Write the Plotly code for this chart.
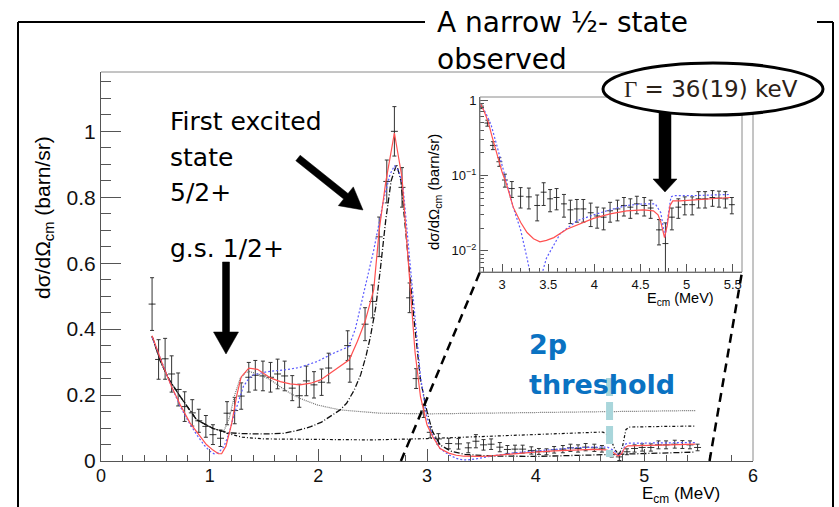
import plotly.graph_objects as go

# ---------------- data ----------------
data_points = [
    (0.47, 0.476, 0.080), (0.53, 0.308, 0.060), (0.59, 0.310, 0.062), (0.65, 0.264, 0.055),
    (0.71, 0.217, 0.050), (0.77, 0.165, 0.045), (0.84, 0.146, 0.040), (0.90, 0.122, 0.035),
    (0.965, 0.105, 0.033), (1.03, 0.080, 0.030), (1.10, 0.069, 0.025), (1.16, 0.145, 0.035),
    (1.23, 0.153, 0.040), (1.29, 0.197, 0.040), (1.36, 0.254, 0.045), (1.42, 0.260, 0.045),
    (1.49, 0.258, 0.045), (1.56, 0.254, 0.045), (1.625, 0.264, 0.045), (1.69, 0.258, 0.045),
    (1.76, 0.221, 0.038), (1.825, 0.198, 0.035), (1.89, 0.243, 0.045), (1.96, 0.231, 0.040),
    (2.03, 0.239, 0.040), (2.095, 0.282, 0.045), (2.27, 0.350, 0.045), (2.29, 0.279, 0.040),
    (2.43, 0.415, 0.050), (2.50, 0.484, 0.050), (2.56, 0.680, 0.060), (2.63, 0.848, 0.065),
    (2.70, 1.000, 0.075), (2.77, 0.830, 0.060), (2.84, 0.495, 0.045), (2.90, 0.250, 0.030),
    (2.97, 0.152, 0.020), (3.03, 0.087, 0.017), (3.105, 0.067, 0.016), (3.20, 0.053, 0.016),
    (3.29, 0.052, 0.016), (3.38, 0.040, 0.015), (3.45, 0.060, 0.020), (3.52, 0.049, 0.016),
    (3.59, 0.051, 0.016), (3.67, 0.042, 0.014), (3.74, 0.035, 0.012), (3.81, 0.036, 0.012),
    (3.88, 0.036, 0.012), (3.96, 0.032, 0.011), (4.03, 0.029, 0.009), (4.10, 0.028, 0.009),
    (4.17, 0.034, 0.010), (4.25, 0.036, 0.011), (4.32, 0.040, 0.011), (4.39, 0.038, 0.011),
    (4.46, 0.042, 0.011), (4.54, 0.040, 0.011), (4.61, 0.037, 0.010), (4.70, 0.019, 0.007),
    (4.77, 0.0125, 0.011), (4.84, 0.028, 0.009), (4.91, 0.038, 0.011), (4.98, 0.041, 0.011),
    (5.06, 0.041, 0.011), (5.13, 0.049, 0.012), (5.20, 0.049, 0.012), (5.28, 0.051, 0.012),
    (5.35, 0.050, 0.012), (5.42, 0.049, 0.012), (5.49, 0.041, 0.010),
]
data_x = [p[0] for p in data_points]
data_y = [p[1] for p in data_points]
data_err = [p[2] for p in data_points]
bin_half_width = 0.032

red_fit = [
    (0.47, 0.380), (0.52, 0.335), (0.57, 0.290), (0.65, 0.225), (0.73, 0.170), (0.82, 0.115),
    (0.90, 0.080), (0.97, 0.050), (1.03, 0.033), (1.08, 0.022), (1.11, 0.022), (1.15, 0.045),
    (1.20, 0.110), (1.25, 0.200), (1.29, 0.255), (1.36, 0.282), (1.44, 0.278), (1.56, 0.252),
    (1.65, 0.241), (1.74, 0.234), (1.83, 0.231), (1.93, 0.236), (2.02, 0.246), (2.11, 0.266),
    (2.20, 0.287), (2.285, 0.307), (2.36, 0.363), (2.43, 0.423), (2.51, 0.520), (2.56, 0.700),
    (2.62, 0.845), (2.70, 0.995), (2.77, 0.860), (2.80, 0.730), (2.85, 0.510), (2.89, 0.330),
    (2.94, 0.195), (3.00, 0.110), (3.05, 0.075), (3.12, 0.038), (3.20, 0.024), (3.27, 0.0175),
    (3.34, 0.0145), (3.41, 0.0132), (3.48, 0.0138), (3.56, 0.015), (3.70, 0.0194), (3.85, 0.023),
    (3.99, 0.027), (4.17, 0.031), (4.35, 0.034), (4.53, 0.035), (4.64, 0.034), (4.69, 0.030),
    (4.72, 0.024), (4.76, 0.015), (4.79, 0.022), (4.82, 0.040), (4.85, 0.046), (4.93, 0.046),
    (5.15, 0.048), (5.47, 0.051),
]
blue_fit = [
    (0.47, 0.375), (0.57, 0.290), (0.65, 0.225), (0.73, 0.165), (0.80, 0.122), (0.88, 0.080),
    (0.95, 0.048), (1.00, 0.030), (1.04, 0.022), (1.08, 0.025), (1.13, 0.043), (1.18, 0.085),
    (1.22, 0.135), (1.27, 0.185), (1.31, 0.226), (1.36, 0.250), (1.40, 0.261), (1.53, 0.271),
    (1.71, 0.277), (1.83, 0.284), (1.99, 0.302), (2.14, 0.327), (2.28, 0.347), (2.34, 0.400),
    (2.39, 0.470), (2.45, 0.560), (2.51, 0.640), (2.60, 0.790), (2.66, 0.870), (2.70, 0.895),
    (2.74, 0.880), (2.78, 0.830), (2.82, 0.680), (2.88, 0.470), (2.94, 0.256), (3.00, 0.130),
    (3.05, 0.080), (3.12, 0.038), (3.20, 0.019), (3.27, 0.008), (3.32, 0.004), (3.37, 0.003),
    (3.41, 0.004), (3.48, 0.008), (3.63, 0.017), (3.81, 0.025), (3.99, 0.030), (4.17, 0.035),
    (4.35, 0.040), (4.53, 0.042), (4.66, 0.042), (4.72, 0.032), (4.765, 0.015), (4.80, 0.030),
    (4.83, 0.052), (4.86, 0.054), (5.07, 0.054), (5.47, 0.056),
]
d_wave = [
    (0.47, 0.378), (0.55, 0.300), (0.63, 0.245), (0.73, 0.195), (0.88, 0.125), (1.03, 0.099),
    (1.16, 0.086), (1.30, 0.083), (1.50, 0.082), (1.68, 0.084), (1.80, 0.092), (1.93, 0.104),
    (2.03, 0.118), (2.11, 0.135), (2.20, 0.155), (2.26, 0.175), (2.33, 0.215), (2.39, 0.262),
    (2.44, 0.320), (2.48, 0.378), (2.53, 0.470), (2.57, 0.580), (2.62, 0.730), (2.67, 0.850),
    (2.72, 0.900), (2.76, 0.850), (2.82, 0.630), (2.88, 0.430), (2.94, 0.246), (3.00, 0.150),
    (3.05, 0.090), (3.12, 0.049), (3.22, 0.030), (3.35, 0.020), (3.60, 0.015), (4.00, 0.014),
    (4.50, 0.018), (5.00, 0.022), (5.47, 0.027),
]
s_wave = [
    (0.47, 0.378), (0.55, 0.300), (0.63, 0.245), (0.73, 0.195), (0.88, 0.125), (1.03, 0.099),
    (1.13, 0.090), (1.18, 0.130), (1.23, 0.200), (1.28, 0.250), (1.33, 0.268), (1.37, 0.271),
    (1.46, 0.262), (1.56, 0.246), (1.65, 0.225), (1.74, 0.206), (1.83, 0.190), (1.99, 0.170),
    (2.20, 0.155), (2.57, 0.145), (3.00, 0.143), (3.50, 0.145), (4.00, 0.148), (4.50, 0.150),
    (5.00, 0.152), (5.47, 0.153),
]
p_wave = [
    (0.47, 0.378), (0.55, 0.300), (0.63, 0.245), (0.73, 0.195), (0.88, 0.125), (1.03, 0.099),
    (1.16, 0.084), (1.30, 0.072), (1.50, 0.067), (2.00, 0.065), (2.50, 0.064), (3.00, 0.068),
    (3.50, 0.074), (4.00, 0.080), (4.50, 0.087), (4.62, 0.088), (4.68, 0.075), (4.73, 0.035),
    (4.765, 0.018), (4.80, 0.045), (4.83, 0.095), (4.86, 0.103), (5.20, 0.105), (5.47, 0.106),
]

threshold_2p = 4.68
main_xrange = [0, 6]
main_yrange = [0, 1.18]
inset_xrange = [2.76, 5.60]
inset_ylog_range = [-2.28, 0.04]
inset_ytickvals = [0.01, 0.1, 1]
inset_yticktext = ["10<sup>\u22122</sup>", "10<sup>\u22121</sup>", "1"]

# ---------------- geometry helpers ----------------
W, H = 839, 507
ML, MR, MT, MB = 101, 86, 72, 46
PW, PH = W - ML - MR, H - MT - MB


def px(x):
    return (x - ML) / PW


def py(y):
    return (H - MB - y) / PH


def arrow_path(tail, tip, w, hw, hl):
    (x0, y0), (x1, y1) = tail, tip
    dx, dy = x1 - x0, y1 - y0
    L = (dx * dx + dy * dy) ** 0.5
    ux, uy = dx / L, dy / L
    nx, ny = -uy, ux
    bx, by = x1 - ux * hl, y1 - uy * hl
    pts = [
        (x0 + nx * w / 2, y0 + ny * w / 2), (bx + nx * w / 2, by + ny * w / 2),
        (bx + nx * hw / 2, by + ny * hw / 2), (x1, y1),
        (bx - nx * hw / 2, by - ny * hw / 2), (bx - nx * w / 2, by - ny * w / 2),
        (x0 - nx * w / 2, y0 - ny * w / 2),
    ]
    return "M " + " L ".join(f"{px(a):.5f},{py(b):.5f}" for a, b in pts) + " Z"


AX = "#555555"
FR = "#8a8a8a"
ROOTFONT = "Liberation Sans, Arial, sans-serif"
PPTFONT = "DejaVu Sans, sans-serif"

fig = go.Figure()


def xy(curve):
    return [c[0] for c in curve], [c[1] for c in curve]


# ---------------- main plot ----------------
fig.add_trace(go.Scatter(
    x=data_x, y=data_y, mode="markers", marker=dict(size=1, color="#222"),
    error_y=dict(type="data", array=data_err, color="#333", thickness=1, width=2),
    error_x=dict(type="constant", value=bin_half_width, color="#333", thickness=1, width=0),
    xaxis="x", yaxis="y", hoverinfo="skip"))

for curve, color, dash, wdt in [
    (s_wave, "#707070", "1px,1px", 1.2),
    (p_wave, "#111111", "3px,2px,1px,2px", 1.2),
    (d_wave, "#111111", "6px,2px,1px,2px", 1.3),
    (blue_fit, "#5a5aff", "2px,2px", 1.2),
    (red_fit, "#ff5050", "solid", 1.2),
]:
    cx, cy = xy(curve)
    fig.add_trace(go.Scatter(x=cx, y=cy, mode="lines", line=dict(color=color, dash=dash, width=wdt),
                             xaxis="x", yaxis="y", hoverinfo="skip"))

# ---------------- inset ----------------
fig.add_trace(go.Scatter(
    x=data_x, y=data_y, mode="markers", marker=dict(size=1, color="#222"),
    error_y=dict(type="data", array=data_err, color="#333", thickness=1, width=2),
    error_x=dict(type="constant", value=bin_half_width, color="#333", thickness=1, width=0),
    xaxis="x2", yaxis="y2", hoverinfo="skip"))
for curve, color, dash in [(blue_fit, "#5a5aff", "2px,2px"), (red_fit, "#ff5050", "solid")]:
    cx, cy = xy(curve)
    fig.add_trace(go.Scatter(x=cx, y=cy, mode="lines", line=dict(color=color, dash=dash, width=1.2),
                             xaxis="x2", yaxis="y2", hoverinfo="skip"))

inset_dom_x = [px(480), px(742)]
inset_dom_y = [py(272), py(97)]

fig.update_layout(
    width=W, height=H, margin=dict(l=ML, r=MR, t=MT, b=MB),
    paper_bgcolor="white", plot_bgcolor="white", showlegend=False,
    xaxis=dict(domain=[0, 1], range=main_xrange, anchor="y", showline=True, linecolor=AX, linewidth=1,
               ticks="inside", ticklen=12, tickcolor=AX, dtick=1, tick0=0, showgrid=False, zeroline=False,
               ticklabelstandoff=-2,
               tickfont=dict(family=ROOTFONT, size=18, color="#111"),
               minor=dict(ticks="inside", ticklen=6, dtick=0.2, tickcolor=AX, showgrid=False)),
    yaxis=dict(domain=[0, 1], range=main_yrange, anchor="x", showline=True, linecolor=AX, linewidth=1,
               ticks="inside", ticklen=20, tickcolor=AX, dtick=0.2, tick0=0, showgrid=False, zeroline=False,
               tickfont=dict(family=ROOTFONT, size=21, color="#111"),
               minor=dict(ticks="inside", ticklen=10, dtick=0.05, tickcolor=AX, showgrid=False)),
    xaxis2=dict(domain=inset_dom_x, range=inset_xrange, anchor="y2", showline=True, linecolor=AX,
                ticks="inside", ticklen=8, tickcolor=AX, dtick=0.5, tick0=0, showgrid=False, zeroline=False,
                tickfont=dict(family=ROOTFONT, size=13, color="#111"),
                minor=dict(ticks="inside", ticklen=4, dtick=0.1, tickcolor=AX, showgrid=False)),
    yaxis2=dict(domain=inset_dom_y, type="log", range=inset_ylog_range, anchor="x2", showline=True,
                linecolor=AX, ticks="inside", ticklen=8, tickcolor=AX, tickvals=inset_ytickvals,
                ticktext=inset_yticktext, showgrid=False, zeroline=False,
                tickfont=dict(family=ROOTFONT, size=13, color="#111"),
                minor=dict(ticks="inside", ticklen=4, dtick="D1", tickcolor=AX, showgrid=False)),
)

shapes = []
# main frame top/right
shapes.append(dict(type="line", xref="paper", yref="paper", x0=0, y0=1, x1=1, y1=1, line=dict(color=FR, width=1)))
shapes.append(dict(type="line", xref="paper", yref="paper", x0=1, y0=0, x1=1, y1=1, line=dict(color=FR, width=1)))
# inset frame
shapes.append(dict(type="rect", xref="paper", yref="paper", x0=inset_dom_x[0], x1=inset_dom_x[1],
                   y0=inset_dom_y[0], y1=inset_dom_y[1], line=dict(color=FR, width=1)))
# zoom lines
for xb, xt in [(inset_xrange[0], inset_dom_x[0]), (inset_xrange[1], inset_dom_x[1])]:
    shapes.append(dict(type="line", xref="paper", yref="paper",
                       x0=(xb - main_xrange[0]) / (main_xrange[1] - main_xrange[0]), y0=0,
                       x1=xt, y1=inset_dom_y[0], line=dict(color="black", width=2.5, dash="9px,6px")))
# 2p threshold marker
shapes.append(dict(type="line", xref="x", yref="y", x0=threshold_2p, x1=threshold_2p, y0=0.252, y1=0.012,
                   line=dict(color="#a9d6db", width=7, dash="18px,6px")))
# outer slide box
for (a, b), (c, d) in [((18, 22), (18, 520)), ((18, 22), (425, 22)), ((817, 22), (833, 22)), ((833, 22), (833, 520))]:
    shapes.append(dict(type="line", xref="paper", yref="paper", x0=px(a), y0=py(b), x1=px(c), y1=py(d),
                       line=dict(color="black", width=2)))
# arrows
for tail, tip, w, hw, hl in [((298, 158), (363, 210), 7, 24, 22),
                             ((226, 262), (226, 354), 7, 25, 22),
                             ((665, 112), (665, 192), 12, 24, 13)]:
    shapes.append(dict(type="path", xref="paper", yref="paper", path=arrow_path(tail, tip, w, hw, hl),
                       fillcolor="black", line=dict(color="black", width=0.5)))
# ellipse
shapes.append(dict(type="circle", xref="paper", yref="paper", x0=px(603), x1=px(823), y0=py(115), y1=py(63),
                   fillcolor="white", line=dict(color="black", width=3)))
fig.update_layout(shapes=shapes)

ann = []


def text(t, x, y, size, family=PPTFONT, color="black", xanchor="left", yanchor="middle", angle=0):
    ann.append(dict(text=t, xref="paper", yref="paper", x=px(x), y=py(y), xanchor=xanchor, yanchor=yanchor,
                    showarrow=False, textangle=angle, font=dict(family=family, size=size, color=color)))


text("First excited", 168, 121, 25)
text("state", 168, 157, 25)
text("5/2+", 168, 192, 25)
text("g.s. 1/2+", 168, 248, 25)
text("A narrow \u00bd- state", 435, 23, 28)
text("observed", 435, 60, 28)
text("<b>2p</b>", 527, 344, 27, color="#0a72c2")
text("<b>threshold</b>", 527, 384, 27, color="#0a72c2")
text("<span style='font-family:Liberation Serif'>\u0393</span> = 36(19) keV", 711, 89, 23,
     color="#2b2118", xanchor="center")
# axis titles
text("d\u03c3/d\u03a9<sub>cm</sub> (barn/sr)", 44, 218, 21, family=ROOTFONT, xanchor="center", angle=-90)
text("E<sub>cm</sub> (MeV)", 722, 495, 17, family=ROOTFONT, xanchor="right")
text("d\u03c3/d\u03a9<sub>cm</sub> (barn/sr)", 434, 192, 15, family=ROOTFONT, xanchor="center", angle=-90)
text("E<sub>cm</sub> (MeV)", 716, 299, 14.5, family=ROOTFONT, xanchor="right")
fig.update_layout(annotations=ann)

fig.write_html("out.html")
